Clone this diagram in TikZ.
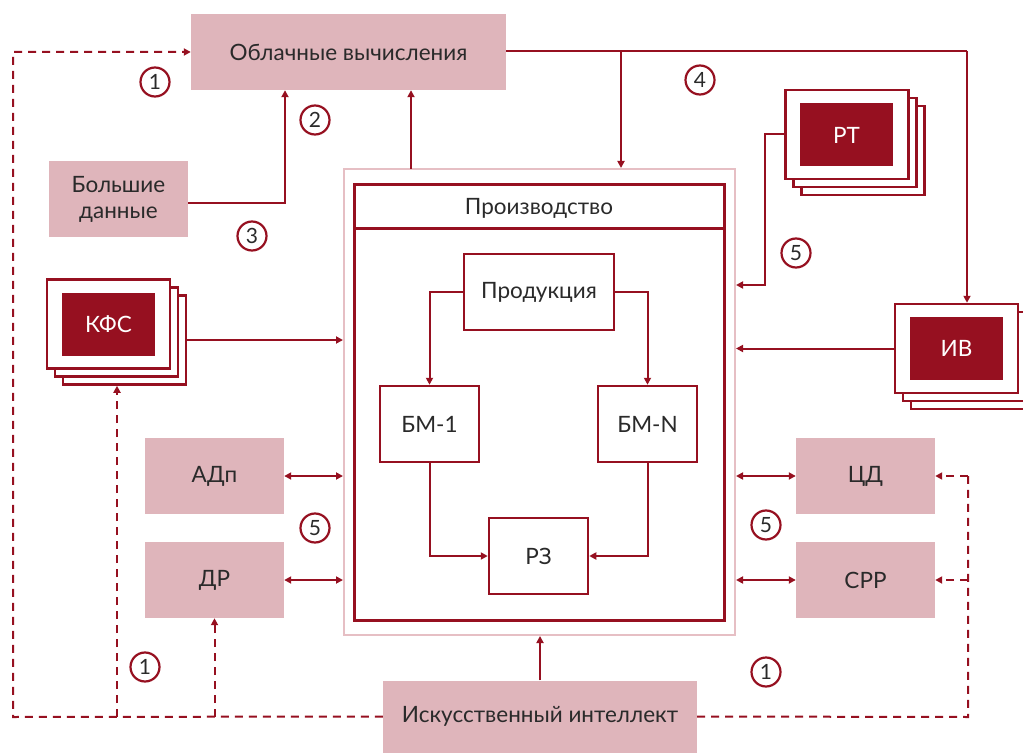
\documentclass[tikz,border=0pt]{standalone}
\usepackage{fontspec}
\setmainfont{Lato}
\usetikzlibrary{arrows.meta}
\definecolor{wine}{HTML}{961020}
\definecolor{rose}{HTML}{DFB5BB}
\definecolor{roseline}{HTML}{E6BFC4}
\definecolor{ink}{HTML}{2A2A2A}

\begin{document}
\begin{tikzpicture}[x=1pt, y=-1pt,
    font=\fontsize{22.5}{27}\selectfont,
    >={Triangle[length=7pt,width=7pt]},
    link/.style={draw=wine, line width=2pt},
    dashlink/.style={link, dash pattern=on 8pt off 6pt},
    pinkbox/.style={fill=rose, text=ink, minimum width=139pt, minimum height=76pt, inner sep=0pt, align=center},
    whitebox/.style={draw=wine, line width=2.5pt, fill=white, text=ink, minimum width=99pt, minimum height=76pt},
    sheet/.style={draw=wine, line width=2.5pt, fill=white, minimum width=123pt, minimum height=89pt},
    darkbox/.style={fill=wine, text=white, minimum width=93pt, minimum height=63pt},
    num/.style={circle, draw=wine, line width=2.2pt, minimum size=29pt, inner sep=0pt, text=ink, font=\fontsize{21}{21}\selectfont}]

\useasboundingbox (0,0) rectangle (1023,754);

% Cloud and big data
\node[pinkbox, minimum width=315pt] (cloud) at (348.5,52) {Облачные вычисления};
\node[pinkbox] (bigdata) at (118.5,199) {Большие\\[-1pt]данные};

% Production
\node[draw=roseline, line width=2pt, minimum width=391pt, minimum height=466pt] (prodouter) at (539.5,402) {};
\node[draw=wine, line width=3pt, minimum width=370pt, minimum height=435pt] (prodinner) at (539,402.5) {};
\draw[wine, line width=3pt] (354,229) -- (724,229);
\node[text=ink] (prodhead) at (539,208) {Производство};

\node[whitebox, minimum width=150pt] (product) at (539,292) {Продукция};
\node[whitebox] (bm1) at (429.5,424) {БМ-1};
\node[whitebox] (bmn) at (647.5,424) {БМ-N};
\node[whitebox] (rz) at (538.5,556) {РЗ};

% Stacks
\node[sheet] (kfs3) at (124.5,340) {};
\node[sheet] (kfs2) at (116.5,332) {};
\node[sheet] (kfs) at (108.5,324) {};
\node[darkbox] (kfsin) at (108.5,324.5) {КФС};

\node[sheet] (rt3) at (863,150.5) {};
\node[sheet] (rt2) at (855,142.5) {};
\node[sheet] (rt) at (847,134.5) {};
\node[darkbox] (rtin) at (846.5,135) {РТ};

\node[sheet] (iv3) at (972.5,364.5) {};
\node[sheet] (iv2) at (964.5,356.5) {};
\node[sheet] (iv) at (956.5,348.5) {};
\node[darkbox] (ivin) at (956.5,348.5) {ИВ};

% Side boxes
\node[pinkbox] (adp) at (214.5,476) {АДп};
\node[pinkbox] (dr) at (214.5,580) {ДР};
\node[pinkbox] (cd) at (865.5,476) {ЦД};
\node[pinkbox] (srr) at (865.5,580) {СРР};

\node[pinkbox, minimum width=314pt, minimum height=72pt] (ai) at (540,716.5) {Искусственный интеллект};

% Solid links
\coordinate (bdup) at (285,203);
\coordinate (produp) at (411,169);
\coordinate (split) at (621,51);
\coordinate (ivdown) at (967,51);
\coordinate (rtleft) at (765,134.5);
\coordinate (rtin5) at (765,285);

\draw[link, ->] (bigdata.east |- bdup) -- (bdup) -- (bdup |- cloud.south);
\draw[link, ->] (produp) -- (produp |- cloud.south);
\draw[link] (cloud.east |- split) -- (ivdown);
\draw[link, ->] (ivdown) -- (ivdown |- iv.north);
\draw[link, ->] (split) -- (split |- prodouter.north);
\draw[link, ->] (rt.west) -- (rtleft) -- (rtin5) -- (rtin5 -| prodouter.east);
\draw[link, ->] (iv.west) -- (iv.west -| prodouter.east);
\draw[link, ->] (kfs3.east) -- (kfs3.east -| prodouter.west);
\draw[link, ->] (ai.north) -- (ai.north |- prodouter.south);

\draw[link, <->] (adp.east) -- (adp.east -| prodouter.west);
\draw[link, <->] (dr.east) -- (dr.east -| prodouter.west);
\draw[link, <->] (cd.west) -- (cd.west -| prodouter.east);
\draw[link, <->] (srr.west) -- (srr.west -| prodouter.east);

% Inside production
\draw[link, ->] (product.west) -| (bm1.north);
\draw[link, ->] (product.east) -| (bmn.north);
\draw[link, ->] (bm1.south) |- (rz.west);
\draw[link, ->] (bmn.south) |- (rz.east);

% Dashed links from AI
\coordinate (lbus) at (13,717);
\coordinate (rbus) at (968,717);
\coordinate (kfsup) at (117,717);

\draw[dashlink, ->] (ai.west) -- (lbus) |- (cloud.west);
\draw[dashlink, ->] (kfsup) -- (kfsup |- kfs3.south);
\draw[dashlink, ->] (dr.south |- lbus) -- (dr.south);
\draw[dashlink] (ai.east) -- (rbus) -- (rbus |- cd.east);
\draw[dashlink, ->] (rbus |- cd.east) -- (cd.east);
\draw[dashlink, ->] (rbus |- srr.east) -- (srr.east);

% Numbers
\node[num] (n1a) at (155,82) {1};
\node[num] (n2) at (315,120) {2};
\node[num] (n3) at (252,236) {3};
\node[num] (n4) at (700,80) {4};
\node[num] (n5a) at (796,253) {5};
\node[num] (n5b) at (315,528) {5};
\node[num] (n5c) at (766,525) {5};
\node[num] (n1b) at (145,667) {1};
\node[num] (n1c) at (766,672) {1};

\end{tikzpicture}
\end{document}
